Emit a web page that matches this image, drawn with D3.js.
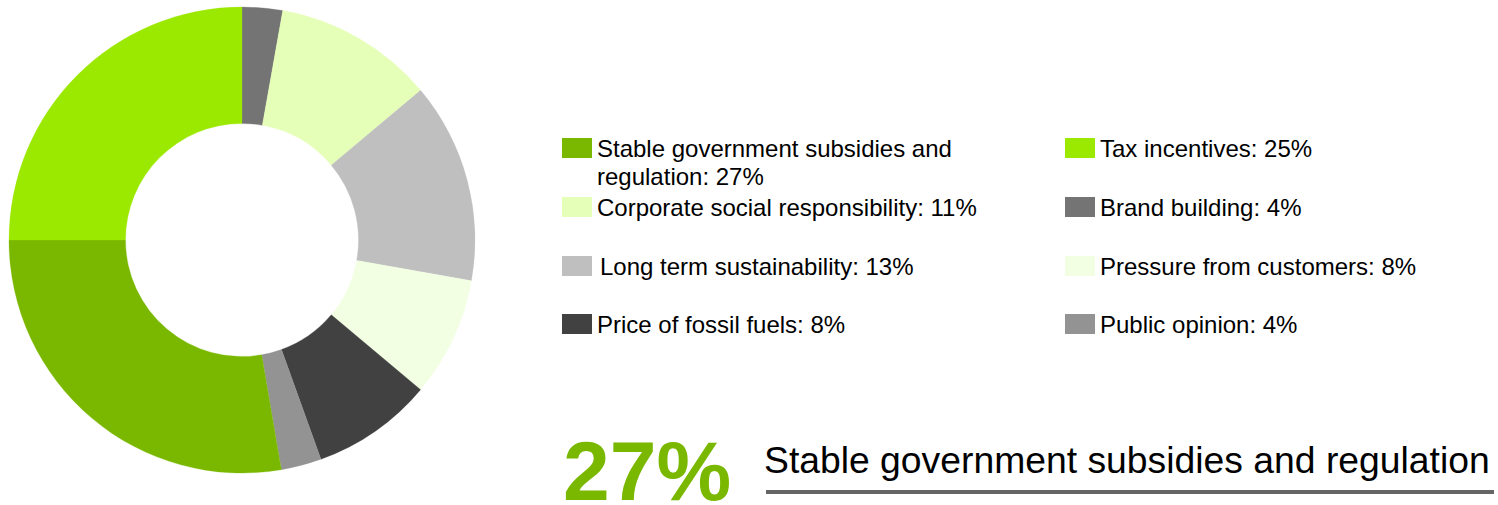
<!DOCTYPE html>
<html>
<head>
<meta charset="utf-8">
<script src="https://cdn.jsdelivr.net/npm/d3@7/dist/d3.min.js"></script>
<style>
  html, body { margin: 0; padding: 0; background: #fff; }
  svg { display: block; font-family: "Liberation Sans", Arial, sans-serif; }
</style>
</head>
<body>
<svg id="chart" width="1498" height="505"></svg>
<script>
// ---- data (pie order, clockwise from 12 o'clock) ----
const categories = [
  "Brand building",
  "Corporate social responsibility",
  "Long term sustainability",
  "Pressure from customers",
  "Price of fossil fuels",
  "Public opinion",
  "Stable government subsidies and regulation",
  "Tax incentives"
];
const values = [2.8, 11.1, 13.9, 8.3, 8.4, 2.8, 27.7, 25.0];
const labelPercents = ["4%", "11%", "13%", "8%", "8%", "4%", "27%", "25%"];
const colors = ["#747474", "#e6ffb8", "#bfbfbf", "#f3ffe3", "#414141", "#939393", "#7ab800", "#9be800"];
// legend order (row-major, two columns)
const legendOrder = [
  "Stable government subsidies and regulation", "Tax incentives",
  "Corporate social responsibility", "Brand building",
  "Long term sustainability", "Pressure from customers",
  "Price of fossil fuels", "Public opinion"
];
const highlight = { value: "27%", label: "Stable government subsidies and regulation" };

// ---- drawing ----
const svg = d3.select("#chart");
const cx = 242, cy = 240, rOuter = 233, rInner = 116.5;

const pie = d3.pie().sort(null).value(d => d.value);
const arc = d3.arc().innerRadius(rInner).outerRadius(rOuter);
const data = categories.map((c, i) => ({ name: c, value: values[i], color: colors[i], pct: labelPercents[i] }));

svg.append("g")
  .attr("transform", `translate(${cx},${cy})`)
  .selectAll("path")
  .data(pie(data))
  .join("path")
  .attr("d", arc)
  .attr("fill", d => d.data.color)
  .attr("stroke", d => d.data.color)
  .attr("stroke-width", 0.3);

// legend
const byName = new Map(data.map(d => [d.name, d]));
const colX = [562, 1065];
const rowY = [138, 197, 256, 314];
const fontSize = 24;
const lineH = 28;
const maxTextW = 420;

const legend = svg.append("g");
legendOrder.forEach((name, i) => {
  const d = byName.get(name);
  const col = i % 2, row = Math.floor(i / 2);
  const x = colX[col], y = rowY[row];
  const tx = x + 35 + (col === 0 && row === 2 ? 3 : 0);
  const g = legend.append("g");
  g.append("rect").attr("x", x).attr("y", y).attr("width", 30).attr("height", 20).attr("fill", d.color);
  const text = g.append("text")
    .attr("x", tx).attr("y", y + 19)
    .attr("font-size", fontSize).attr("fill", "#000");
  // word wrap
  const words = (d.name + ": " + d.pct).split(" ");
  let line = [];
  let tspan = text.append("tspan").attr("x", tx).attr("dy", 0);
  words.forEach(w => {
    line.push(w);
    tspan.text(line.join(" "));
    if (tspan.node().getComputedTextLength() > maxTextW && line.length > 1) {
      line.pop();
      tspan.text(line.join(" "));
      line = [w];
      tspan = text.append("tspan").attr("x", tx).attr("dy", lineH).text(w);
    }
  });
});

// highlight callout
svg.append("text")
  .attr("x", 563).attr("y", 500)
  .attr("font-size", 84).attr("font-weight", "bold")
  .attr("fill", "#7ab800")
  .text(highlight.value);
svg.append("text")
  .attr("x", 764).attr("y", 473)
  .attr("font-size", 37.3).attr("fill", "#000")
  .text(highlight.label);
svg.append("line")
  .attr("x1", 766).attr("x2", 1494)
  .attr("y1", 492).attr("y2", 492)
  .attr("stroke", "#656565").attr("stroke-width", 4);
</script>
</body>
</html>
